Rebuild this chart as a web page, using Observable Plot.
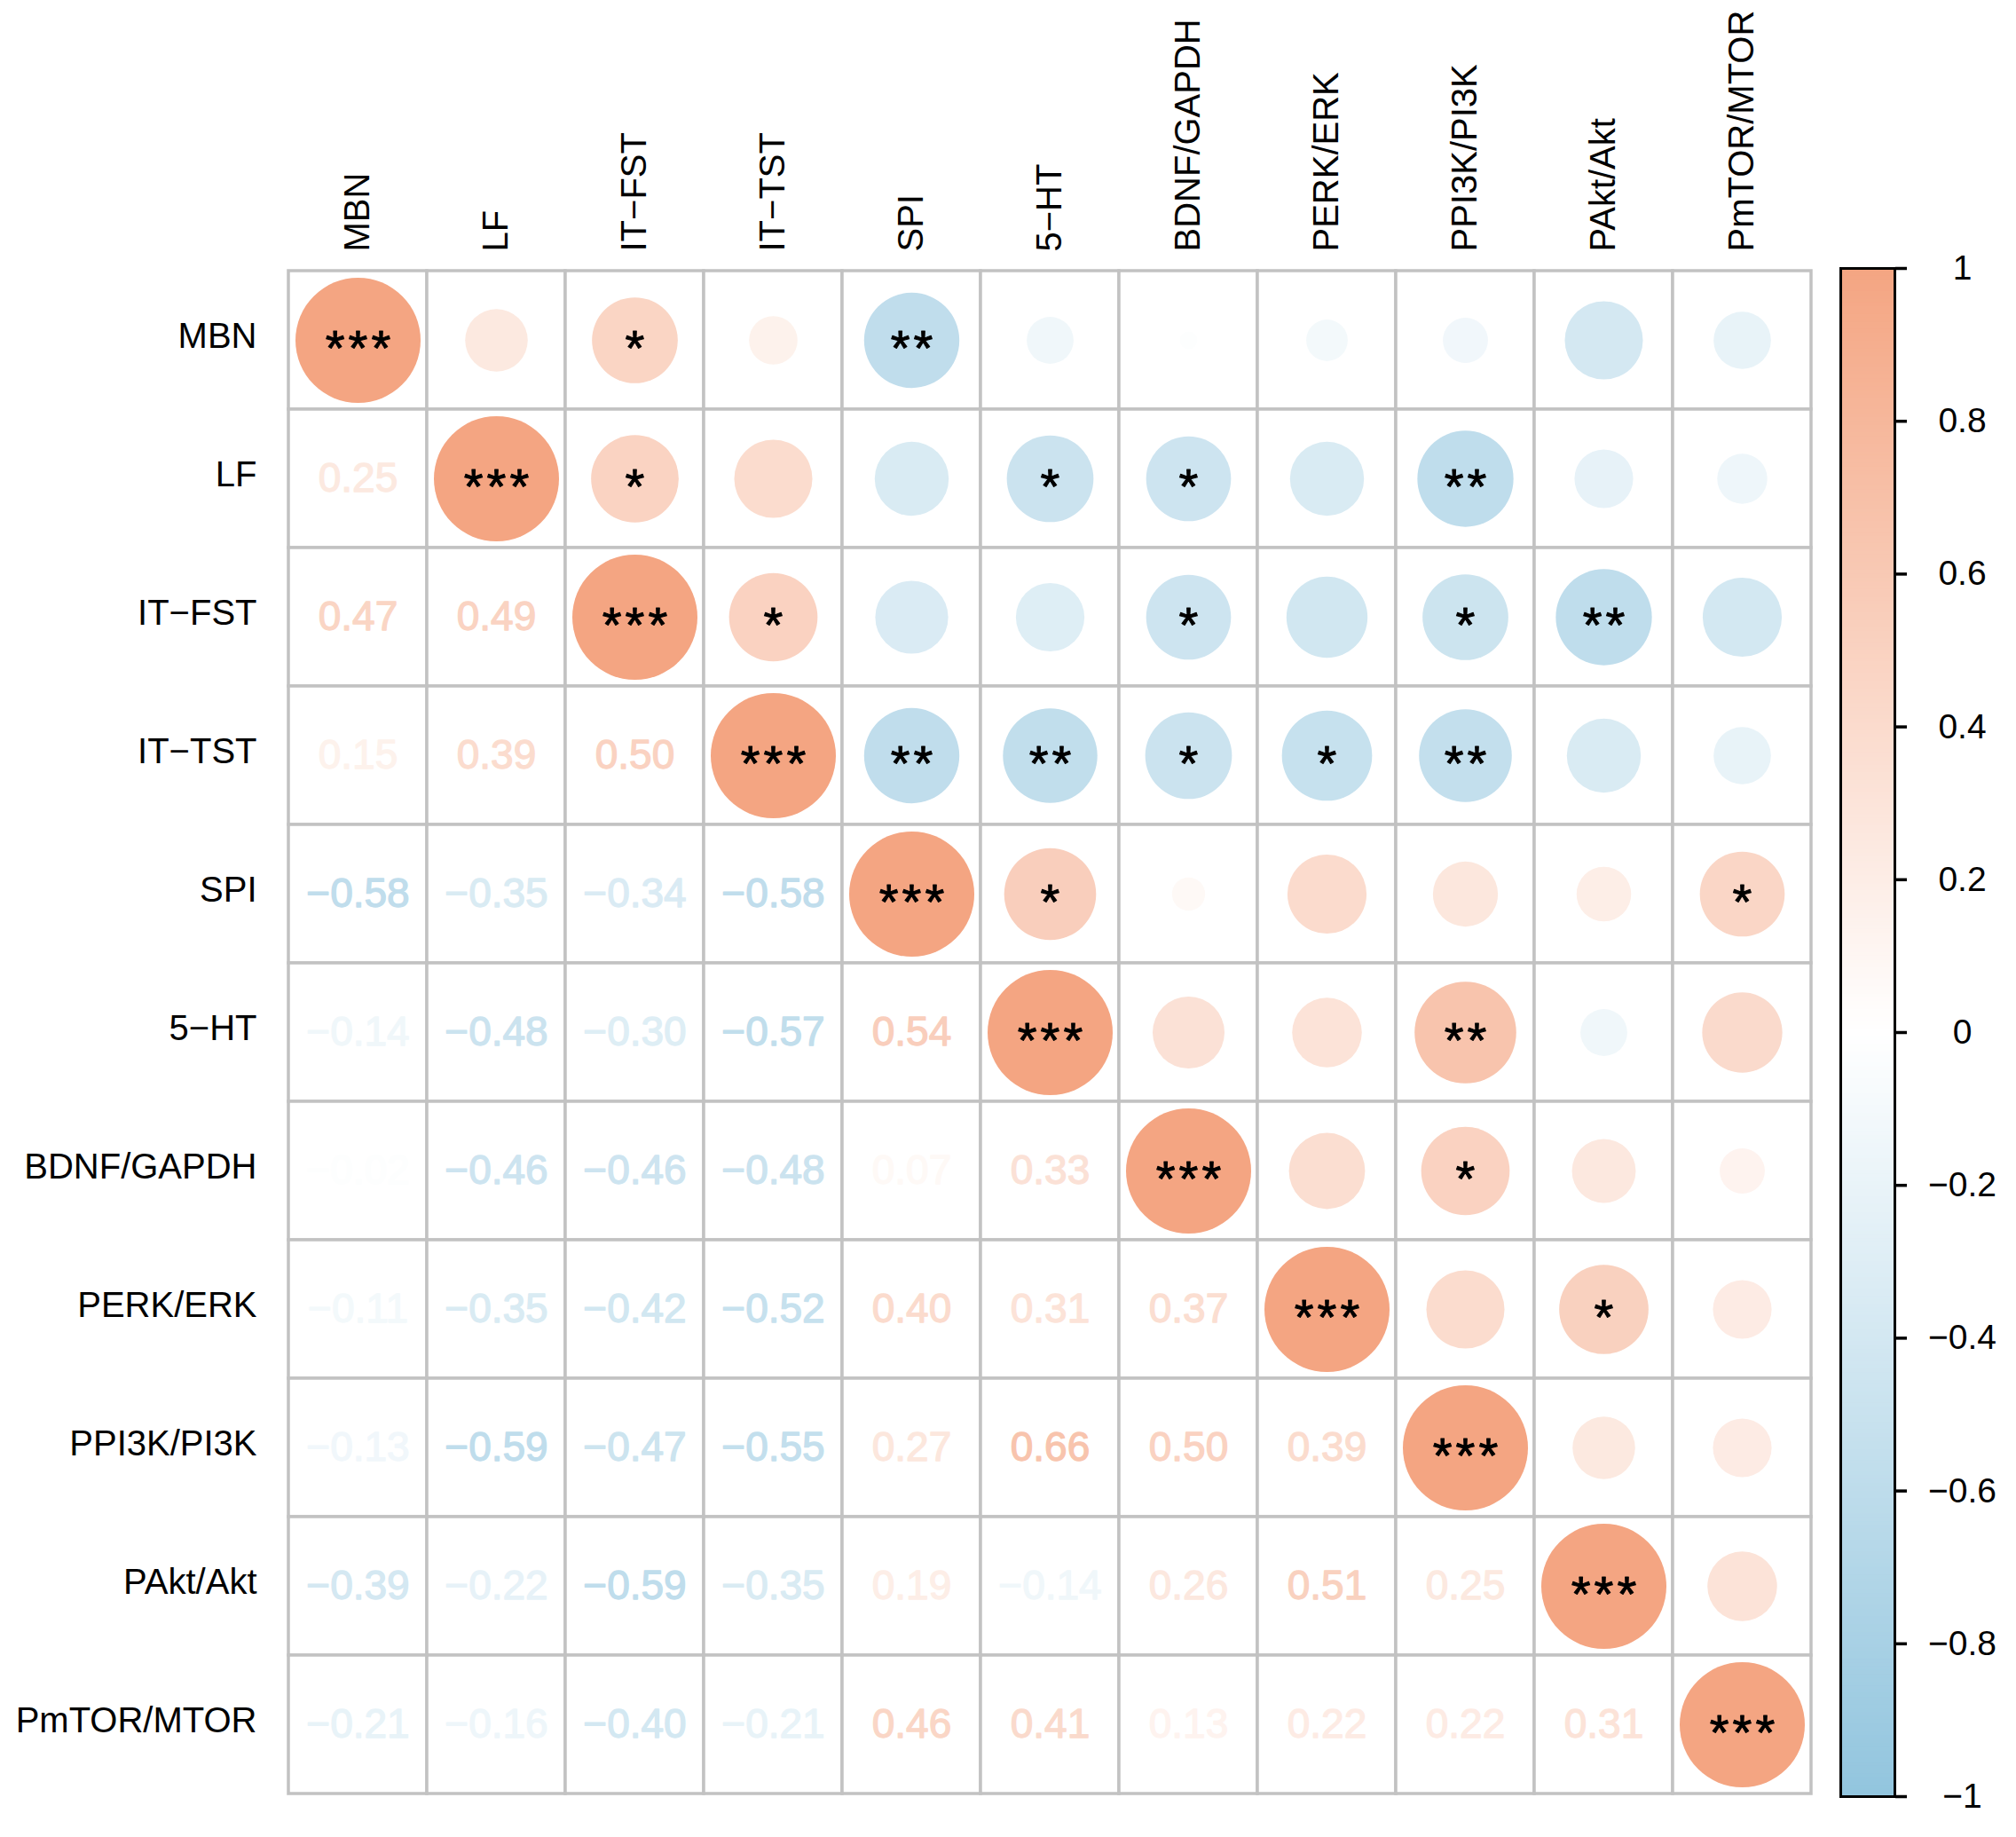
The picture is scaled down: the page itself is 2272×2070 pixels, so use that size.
<!DOCTYPE html>
<html>
<head>
<meta charset="utf-8">
<script src="https://cdn.jsdelivr.net/npm/d3@7"></script>
<script src="https://cdn.jsdelivr.net/npm/@observablehq/plot@0.6"></script>
<style>
  body { margin: 0; background: white; }
  #wrap { position: relative; width: 2272px; height: 2070px; }
  #wrap svg { position: absolute; left: 0; top: 0; }
  .stars text { letter-spacing: 4px; }
</style>
</head>
<body>
<div id="wrap"></div>
<script>
// Variables (row/column order)
const vars = ["MBN", "LF", "IT−FST", "IT−TST", "SPI", "5−HT", "BDNF/GAPDH", "PERK/ERK", "PPI3K/PI3K", "PAkt/Akt", "PmTOR/MTOR"];

// Lower triangle correlation coefficients (row i, columns 0..i-1)
const corrLower = [
  [],
  [0.25],
  [0.47, 0.49],
  [0.15, 0.39, 0.50],
  [-0.58, -0.35, -0.34, -0.58],
  [-0.14, -0.48, -0.30, -0.57, 0.54],
  [-0.02, -0.46, -0.46, -0.48, 0.07, 0.33],
  [-0.11, -0.35, -0.42, -0.52, 0.40, 0.31, 0.37],
  [-0.13, -0.59, -0.47, -0.55, 0.27, 0.66, 0.50, 0.39],
  [-0.39, -0.22, -0.59, -0.35, 0.19, -0.14, 0.26, 0.51, 0.25],
  [-0.21, -0.16, -0.40, -0.21, 0.46, 0.41, 0.13, 0.22, 0.22, 0.31]
];

// Significance stars for upper triangle incl. diagonal (row i, columns i..10)
const starsUpper = [
  ["***", "", "*", "", "**", "", "", "", "", "", ""],
  ["***", "*", "", "", "*", "*", "", "**", "", ""],
  ["***", "*", "", "", "*", "", "*", "**", ""],
  ["***", "**", "**", "*", "*", "**", "", ""],
  ["***", "*", "", "", "", "", "*"],
  ["***", "", "", "**", "", ""],
  ["***", "", "*", "", ""],
  ["***", "", "*", ""],
  ["***", "", ""],
  ["***", ""],
  ["***"]
];

// Colour bar tick values
const cbTicks = [-1, -0.8, -0.6, -0.4, -0.2, 0, 0.2, 0.4, 0.6, 0.8, 1];

const corrAt = (i, j) => i === j ? 1 : (i > j ? corrLower[i][j] : corrLower[j][i]);

const cells = [];
const lower = [];
const upper = [];
vars.forEach((rv, i) => vars.forEach((cv, j) => {
  cells.push({row: rv, col: cv});
  if (i > j) lower.push({row: rv, col: cv, v: corrAt(i, j)});
  else upper.push({row: rv, col: cv, v: corrAt(i, j), s: starsUpper[i][j - i]});
}));

const colorScale = {type: "linear", domain: [-1, 0, 1], range: ["#92C5DE", "#FFFFFF", "#F4A582"], interpolate: "rgb"};
const font = "'Liberation Sans', Arial, Helvetica, sans-serif";
const fmt2 = d3.format(".2f");

const main = Plot.plot({
  width: 2272, height: 2070,
  marginLeft: 322, marginRight: 228, marginTop: 302, marginBottom: 46,
  style: {fontFamily: font, background: "transparent"},
  x: {domain: vars, padding: 0},
  y: {domain: vars, padding: 0},
  color: colorScale,
  r: {type: "sqrt", domain: [0, 1], range: [0, 70.5]},
  marks: [
    Plot.cell(cells, {x: "col", y: "row", fill: "white", stroke: "#C2C2C2", strokeWidth: 3.5}),
    Plot.dot(upper, {x: "col", y: "row", r: d => Math.abs(d.v), fill: "v"}),
    Plot.text(lower, {x: "col", y: "row", text: d => fmt2(d.v), fill: "v", stroke: "v", strokeWidth: 1.3, paintOrder: "fill", fontSize: 46}),
    Plot.text(upper.filter(d => d.s), {x: "col", y: "row", text: "s", fill: "black", stroke: "black", strokeWidth: 1, paintOrder: "fill", fontSize: 56, dy: 10, dx: 2, className: "stars"}),
    Plot.axisX({anchor: "top", tickSize: 0, tickPadding: 19, tickRotate: -90, fontSize: 40, label: null, fill: "black"}),
    Plot.axisY({anchor: "left", tickSize: 0, tickPadding: 33, fontSize: 40, dy: -4, label: null, fill: "black"})
  ]
});

const step = 0.005;
const ramp = d3.range(-1, 1, step);
const bar = Plot.plot({
  width: 2272, height: 2070,
  marginLeft: 2074, marginRight: 137, marginTop: 302, marginBottom: 46,
  style: {fontFamily: font, background: "transparent"},
  x: {domain: [0, 1], axis: null},
  y: {domain: [-1, 1], axis: null},
  color: colorScale,
  marks: [
    Plot.rect(ramp, {x1: 0, x2: 1, y1: d => d, y2: d => Math.min(1, d + step * 1.5), fill: d => d + step / 2}),
    Plot.frame({stroke: "black", strokeWidth: 3}),
    Plot.axisY({anchor: "right", ticks: cbTicks, tickSize: 13, tickPadding: 63, textAnchor: "middle",
      tickFormat: d3.format("~g"), fontSize: 39, strokeWidth: 3.5, label: null, fill: "black", stroke: "black"})
  ]
});

const wrap = document.getElementById("wrap");
wrap.appendChild(main);
wrap.appendChild(bar);
</script>
</body>
</html>
